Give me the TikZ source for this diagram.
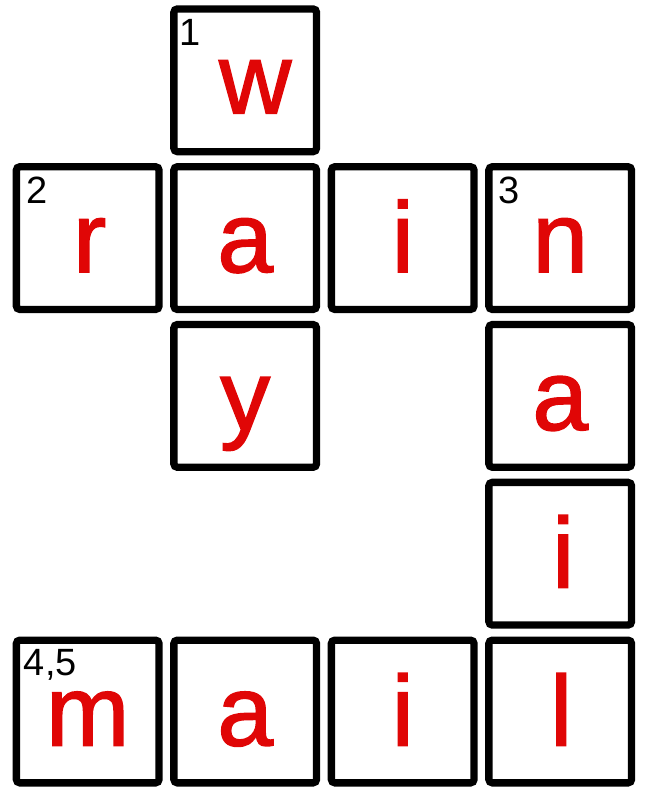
\documentclass[tikz,border=0pt]{standalone}
\usepackage{fontspec}
\setmainfont{Liberation Sans}
\newfontfamily\ltrfont{Liberation Sans}[FakeBold=1.5]
\definecolor{lred}{RGB}{224,6,6}
\begin{document}
\begin{tikzpicture}[x=1pt,y=-1pt,
  cell/.style={draw=black,line width=7.3pt,rounded corners=3.5pt,minimum size=142.7pt,inner sep=0pt},
  ltr/.style={text=lred,font=\ltrfont\fontsize{100}{100}\selectfont,inner sep=0pt,anchor=base},
  num/.style={text=black,font=\fontsize{38}{38}\selectfont,inner sep=0pt,anchor=base west}]
\useasboundingbox (0,0) rectangle (645,787);
% cells
\node[cell] (c01) at (245.2,80.3) {};
\node[cell] (c10) at (87.7,238.1) {};
\node[cell] (c11) at (245.2,238.1) {};
\node[cell] (c12) at (402.7,238.1) {};
\node[cell] (c13) at (560.2,238.1) {};
\node[cell] (c21) at (245.2,395.9) {};
\node[cell] (c23) at (560.2,395.9) {};
\node[cell] (c33) at (560.2,553.7) {};
\node[cell] (c40) at (87.7,711.5) {};
\node[cell] (c41) at (245.2,711.5) {};
\node[cell] (c42) at (402.7,711.5) {};
\node[cell] (c43) at (560.2,711.5) {};
% letters
\node[ltr] (l01) at ([xshift=10pt,yshift=-33pt]c01.center) {w};
\node[ltr] (l10) at ([xshift=2pt,yshift=-34pt]c10.center) {r};
\node[ltr] (l11) at ([yshift=-34pt]c11.center) {a};
\node[ltr] (l12) at ([yshift=-34pt]c12.center) {i};
\node[ltr] (l13) at ([yshift=-34pt]c13.center) {n};
\node[ltr] (l21) at ([yshift=-34pt]c21.center) {y};
\node[ltr] (l23) at ([yshift=-34pt]c23.center) {a};
\node[ltr] (l33) at ([xshift=3pt,yshift=-34pt]c33.center) {i};
\node[ltr] (l40) at ([yshift=-34pt]c40.center) {m};
\node[ltr] (l41) at ([yshift=-34pt]c41.center) {a};
\node[ltr] (l42) at ([yshift=-34pt]c42.center) {i};
\node[ltr] (l43) at ([xshift=1pt,yshift=-34pt]c43.center) {l};
% numbers
\node[num] (n1) at ([xshift=9.5pt,yshift=-40pt]c01.north west) {1};
\node[num] (n2) at ([xshift=13.5pt,yshift=-40pt]c10.north west) {2};
\node[num] (n3) at ([xshift=13.5pt,yshift=-40pt]c13.north west) {3};
\node[num] (n45) at ([xshift=11pt,yshift=-39pt]c40.north west) {4,5};
\end{tikzpicture}
\end{document}
